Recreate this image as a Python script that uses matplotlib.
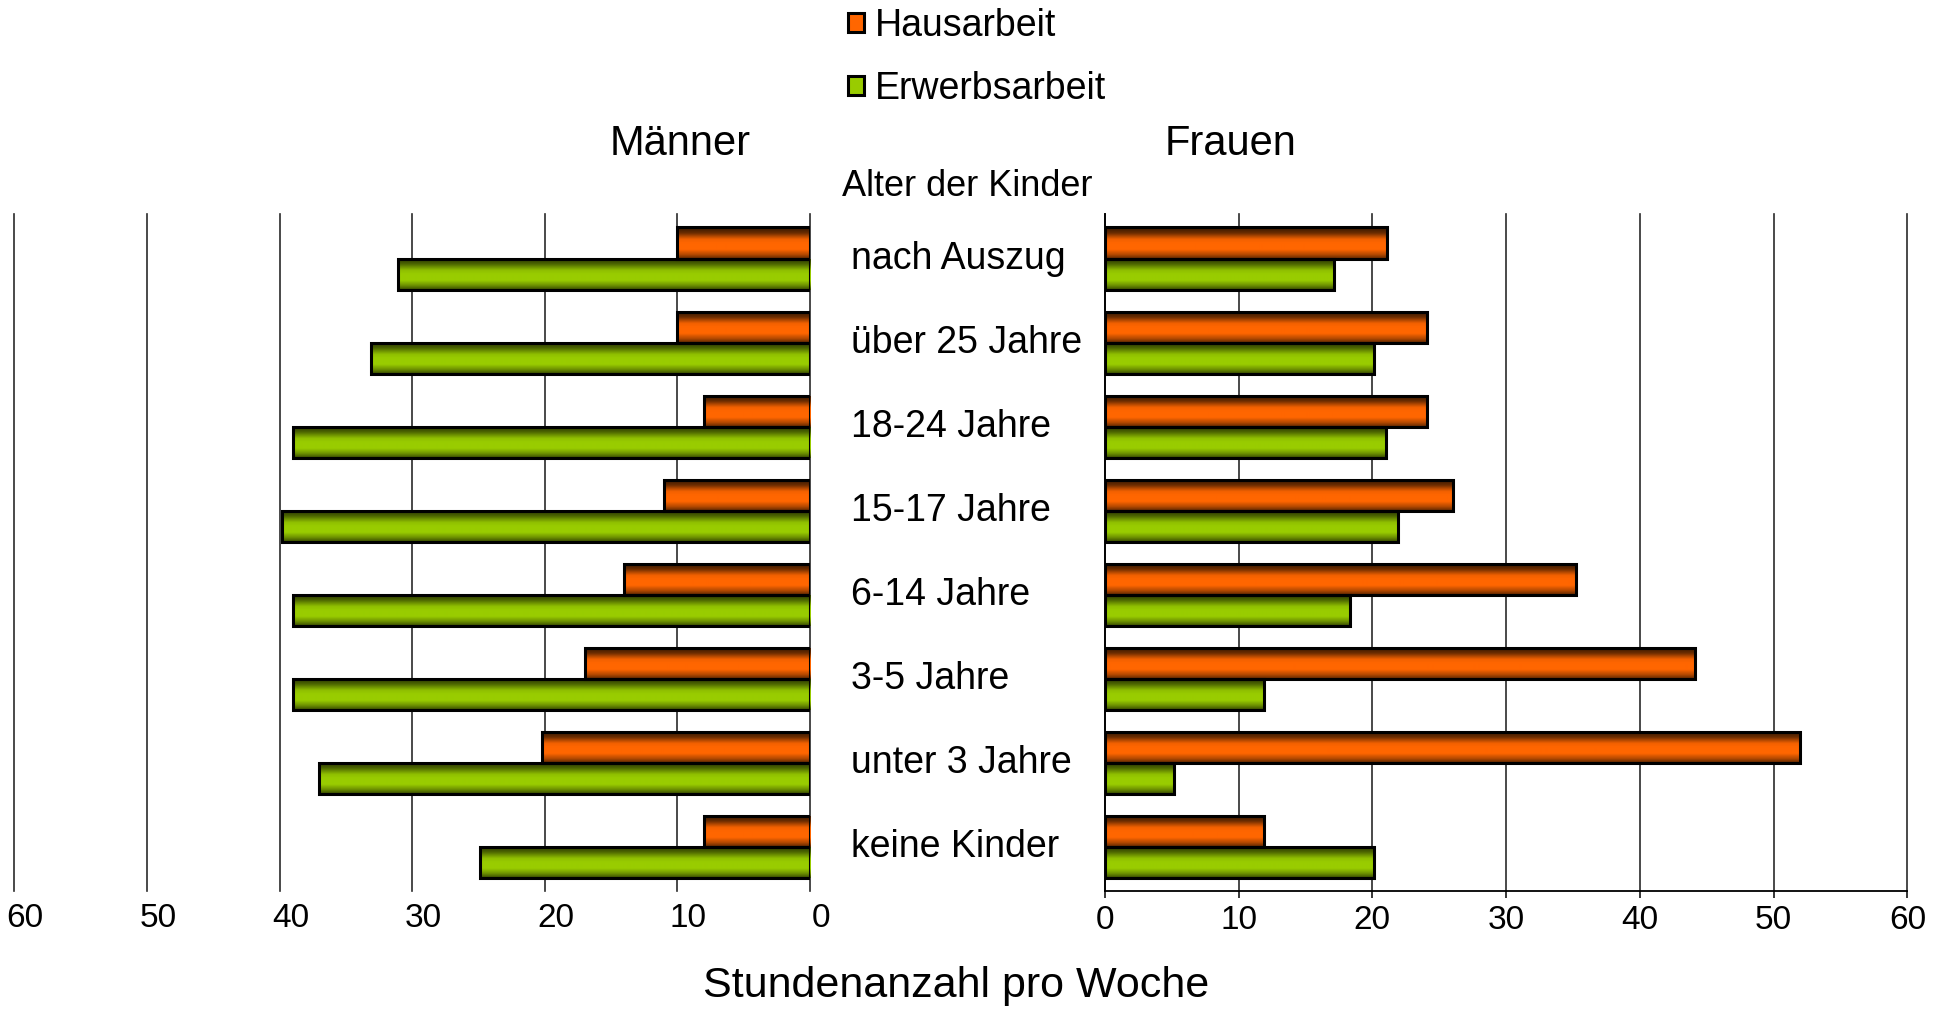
import numpy as np
import matplotlib
matplotlib.use("Agg")
import matplotlib.pyplot as plt
from matplotlib import transforms
from matplotlib.colors import LinearSegmentedColormap

# ===== Data =====
categories = ["nach Auszug", "über 25 Jahre", "18-24 Jahre", "15-17 Jahre",
              "6-14 Jahre", "3-5 Jahre", "unter 3 Jahre", "keine Kinder"]
series_labels = ["Hausarbeit", "Erwerbsarbeit"]
maenner_haus = [10, 10, 8, 11, 14, 17, 20.2, 8]
maenner_erwerb = [31.1, 33.1, 39, 39.8, 39, 39, 37, 24.9]
frauen_haus = [21.1, 24.1, 24.1, 26, 35.2, 44.1, 52, 11.9]
frauen_erwerb = [17.1, 20.1, 21, 21.9, 18.3, 11.9, 5.2, 20.1]
x_ticks = [0, 10, 20, 30, 40, 50, 60]
# ================

W, H = 1950, 1010
plt.rcParams["font.family"] = ["Liberation Sans", "DejaVu Sans"]

ORANGE = "#ff6600"
GREEN = "#99cc00"
cm_orange = LinearSegmentedColormap.from_list(
    "o", [(0, "#331500"), (0.18, "#6b2c00"), (0.38, "#f26100"), (0.5, ORANGE),
          (0.7, ORANGE), (0.86, "#b84a00"), (1, "#5c2600")])
cm_green = LinearSegmentedColormap.from_list(
    "g", [(0, "#263300"), (0.18, "#4d6600"), (0.38, "#8fbf00"), (0.5, GREEN),
          (0.7, GREEN), (0.86, "#6e9200"), (1, "#364800")])


def px_box(l, t, r, b):
    return [l / W, 1 - b / H, (r - l) / W, (b - t) / H]


def shade(ax, bars, cmap):
    # vertical gradient inside each bar, edge drawn on top
    grad = np.linspace(0, 1, 64).reshape(-1, 1)
    for p in bars:
        x0, y0, w, hh = p.get_x(), p.get_y(), p.get_width(), p.get_height()
        im = ax.imshow(grad, cmap=cmap, extent=(x0, x0 + w, y0 + hh, y0),
                       aspect="auto", origin="upper", zorder=2,
                       interpolation="bilinear")
        im.set_clip_path(p)
        p.set_facecolor("none")
        p.set_zorder(3)


fig = plt.figure(figsize=(W / 100, H / 100), dpi=100)
ax_m = fig.add_axes(px_box(14.3, 214, 810, 891))
ax_f = fig.add_axes(px_box(1104.8, 214, 1907.4, 891))

y = np.arange(len(categories))
h = 0.37
kw = dict(height=h, edgecolor="black", linewidth=2.2)
bm_h = ax_m.barh(y - h / 2, maenner_haus, color=ORANGE, **kw)
bm_e = ax_m.barh(y + h / 2, maenner_erwerb, color=GREEN, **kw)
bf_h = ax_f.barh(y - h / 2, frauen_haus, color=ORANGE, **kw)
bf_e = ax_f.barh(y + h / 2, frauen_erwerb, color=GREEN, **kw)

fig.legend(handles=[bm_h, bm_e], labels=series_labels, loc="upper left",
           bbox_to_anchor=(848 / W, 1 - 8 / H), frameon=False, fontsize=27,
           handlelength=0.42, handleheight=0.42, handletextpad=0.3,
           labelspacing=0.72, borderaxespad=0, borderpad=0)

for ax, bh, be in [(ax_m, bm_h, bm_e), (ax_f, bf_h, bf_e)]:
    shade(ax, bh, cm_orange)
    shade(ax, be, cm_green)
    ax.set_ylim(7.52, -0.53)
    ax.set_yticks([])
    ax.set_xticks(x_ticks)
    ax.set_axisbelow(True)
    ax.grid(axis="x", color="#2a2a2a", linewidth=1.2)
    for gl in ax.get_xgridlines():
        gl.set_clip_on(False)
    for lbl in ax.get_xticklabels():
        lbl.set_fontsize(24)

# Maenner: reversed axis, no frame
ax_m.set_xlim(60, 0)
for s in ax_m.spines.values():
    s.set_visible(False)
ax_m.tick_params(axis="x", length=0, pad=8.5)
shift = transforms.ScaledTranslation(0.11, 0, fig.dpi_scale_trans)
for lbl in ax_m.get_xticklabels():
    lbl.set_transform(lbl.get_transform() + shift)

# Frauen
ax_f.set_xlim(0, 60)
ax_f.spines["top"].set_visible(False)
ax_f.spines["right"].set_visible(False)
ax_f.spines["left"].set_linewidth(1.3)
ax_f.spines["bottom"].set_linewidth(1.3)
ax_f.tick_params(axis="x", length=5, width=1.1, direction="out", pad=5.0)

# category labels in the middle
tr = transforms.blended_transform_factory(fig.transFigure, ax_f.transData)
for i, c in enumerate(categories):
    ax_f.text(850.6 / W, i, c, transform=tr, ha="left", va="center", fontsize=27)

fig.text(680 / W, 1 - 144 / H, "Männer", ha="center", va="center", fontsize=30)
fig.text(1230.6 / W, 1 - 144 / H, "Frauen", ha="center", va="center", fontsize=30)
fig.text(967.5 / W, 1 - 187 / H, "Alter der Kinder", ha="center", va="center", fontsize=26)
fig.text(956 / W, 1 - 986 / H, "Stundenanzahl pro Woche", ha="center", va="center", fontsize=31)

fig.savefig("out.png", dpi=100, facecolor="white")
